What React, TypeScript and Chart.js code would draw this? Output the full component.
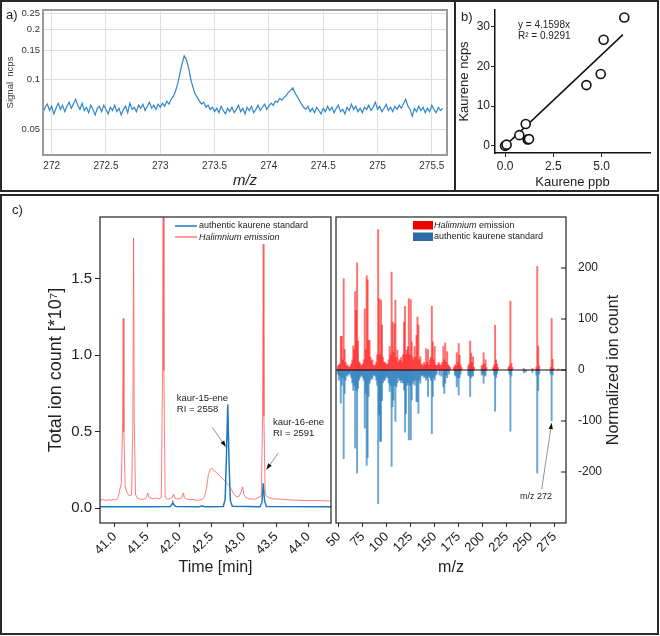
import React, { useEffect, useRef } from "react";
import { Chart, registerables } from "chart.js";

Chart.register(...registerables);

const FONT = "'Liberation Sans', Arial, Helvetica, sans-serif";
Chart.defaults.font.family = FONT;
Chart.defaults.color = "#222";

// ---------- a) high resolution signal ----------
const A_MZ_START = 271.92;
const A_MZ_STEP = 0.02;
const A_SIGNAL = [
  0.063, 0.068, 0.071, 0.065, 0.069, 0.062, 0.067, 0.072, 0.066, 0.070,
  0.064, 0.069, 0.073, 0.067, 0.071, 0.076, 0.070, 0.066, 0.072, 0.065,
  0.068, 0.063, 0.070, 0.066, 0.061, 0.067, 0.069, 0.064, 0.070, 0.066,
  0.062, 0.068, 0.065, 0.070, 0.064, 0.067, 0.061, 0.066, 0.069, 0.063,
  0.072, 0.066, 0.068, 0.064, 0.070, 0.067, 0.071, 0.065, 0.069, 0.073,
  0.067, 0.070, 0.066, 0.071, 0.068, 0.072, 0.069, 0.074, 0.071, 0.076,
  0.079, 0.085, 0.094, 0.108, 0.124, 0.139, 0.132, 0.118, 0.101, 0.090,
  0.082, 0.078, 0.074, 0.071, 0.073, 0.068, 0.070, 0.066, 0.068, 0.064,
  0.067, 0.063, 0.069, 0.065, 0.062, 0.067, 0.064, 0.068, 0.063, 0.066,
  0.070, 0.064, 0.067, 0.062, 0.068, 0.065, 0.069, 0.063, 0.066, 0.070,
  0.065, 0.068, 0.071, 0.066, 0.069, 0.072, 0.070, 0.074, 0.073, 0.077,
  0.075, 0.078, 0.080, 0.084, 0.086, 0.089, 0.083, 0.079, 0.075, 0.071,
  0.068, 0.066, 0.069, 0.064, 0.067, 0.063, 0.068, 0.065, 0.062, 0.067,
  0.064, 0.069, 0.065, 0.068, 0.063, 0.067, 0.070, 0.064, 0.066, 0.062,
  0.068, 0.065, 0.071, 0.066, 0.069, 0.064, 0.067, 0.063, 0.068, 0.066,
  0.070, 0.065, 0.068, 0.073, 0.066, 0.069, 0.064, 0.067, 0.071, 0.065,
  0.068, 0.064, 0.069, 0.066, 0.070, 0.067, 0.072, 0.076, 0.069, 0.066,
  0.060, 0.067, 0.064, 0.069, 0.065, 0.068, 0.063, 0.067, 0.064, 0.070,
  0.066, 0.063, 0.068, 0.065, 0.067,
];
const A_X_TICKS = [272, 272.5, 273, 273.5, 274, 274.5, 275, 275.5];
const A_Y_TICKS = [0.05, 0.1, 0.15, 0.2, 0.25];

// ---------- b) calibration ----------
const B_PPB = [0, 0.08, 0.74, 1.07, 1.17, 1.24, 4.21, 4.95, 5.1, 6.17];
const B_NCPS = [0, 0.3, 2.7, 5.5, 1.6, 1.7, 15.3, 18.1, 26.7, 32.3];
const B_FIT_X = [0, 6.1];
const B_FIT_Y = [0, 28];
const B_X_TICKS = [0, 2.5, 5];
const B_Y_TICKS = [0, 10, 20, 30];

// ---------- c) chromatogram (time [min], TIC *10^7) ----------
const C_STANDARD = [
  [40.77, 0.01], [41.5, 0.01], [41.86, 0.011], [41.89, 0.03], [41.9, 0.037], [41.92, 0.02],
  [41.95, 0.011], [42.3, 0.01], [42.35, 0.015], [42.4, 0.01], [42.68, 0.012], [42.71, 0.06],
  [42.73, 0.35], [42.75, 0.678], [42.77, 0.3], [42.79, 0.05], [42.82, 0.013], [43.25, 0.01],
  [43.28, 0.04], [43.3, 0.163], [43.32, 0.05], [43.35, 0.012], [44.35, 0.01],
];
const C_EMISSION = [
  [40.77, 0.052], [40.82, 0.058], [40.86, 0.05], [40.9, 0.056], [40.94, 0.052], [40.98, 0.058],
  [41.02, 0.054], [41.05, 0.07], [41.08, 0.13], [41.1, 0.16], [41.12, 0.55], [41.13, 1.24],
  [41.14, 0.5], [41.16, 0.14], [41.19, 0.1], [41.23, 0.08], [41.26, 0.09], [41.28, 0.6],
  [41.29, 1.765], [41.3, 0.6], [41.32, 0.09], [41.35, 0.065], [41.39, 0.06], [41.43, 0.058],
  [41.47, 0.062], [41.49, 0.07], [41.51, 0.1], [41.53, 0.07], [41.56, 0.066], [41.6, 0.062],
  [41.64, 0.068], [41.68, 0.06], [41.72, 0.07], [41.74, 0.9], [41.75, 2.6], [41.76, 0.9],
  [41.78, 0.07], [41.82, 0.06], [41.86, 0.064], [41.89, 0.07], [41.91, 0.093], [41.93, 0.066],
  [41.97, 0.06], [42.01, 0.064], [42.04, 0.07], [42.06, 0.1], [42.08, 0.068], [42.12, 0.06],
  [42.17, 0.056], [42.22, 0.058], [42.27, 0.052], [42.32, 0.055], [42.36, 0.06], [42.39, 0.075],
  [42.42, 0.13], [42.45, 0.22], [42.48, 0.255], [42.5, 0.26], [42.53, 0.25], [42.58, 0.23],
  [42.63, 0.21], [42.68, 0.19], [42.73, 0.165], [42.77, 0.15], [42.81, 0.12], [42.85, 0.09],
  [42.89, 0.075], [42.93, 0.08], [42.96, 0.11], [42.98, 0.14], [43.0, 0.09], [43.03, 0.07],
  [43.08, 0.062], [43.13, 0.06], [43.18, 0.06], [43.22, 0.07], [43.27, 0.08], [43.29, 0.6],
  [43.3, 1.724], [43.31, 0.6], [43.33, 0.09], [43.38, 0.07], [43.45, 0.062], [43.55, 0.06],
  [43.7, 0.055], [43.85, 0.052], [44.0, 0.05], [44.15, 0.05], [44.35, 0.048],
];
const C_TIME_TICKS = [41, 41.5, 42, 42.5, 43, 43.5, 44];
const C_TIC_TICKS = [0, 0.5, 1, 1.5];

// ---------- c) mass spectra (m/z, normalized ion count) ----------
const MS_EMISSION = [
  [49, 8], [50, 10], [51, 12], [52, 66], [53, 66], [54, 20], [55, 179], [56, 40], [57, 15], [58, 8],
  [59, 10], [60, 6], [61, 5], [62, 8], [63, 12], [64, 20], [65, 47], [66, 40], [67, 154], [68, 117],
  [69, 210], [70, 57], [71, 16], [72, 13], [73, 8], [74, 10], [75, 12], [76, 20], [77, 120], [78, 40],
  [79, 185], [80, 177], [81, 58], [82, 58], [83, 25], [84, 18], [85, 20], [86, 10], [87, 8], [88, 10],
  [89, 15], [90, 30], [91, 275], [92, 140], [93, 30], [94, 137], [95, 88], [96, 25], [97, 15], [98, 15],
  [99, 12], [100, 10], [101, 12], [102, 20], [103, 46], [104, 30], [105, 192], [106, 94], [107, 35], [108, 91],
  [109, 137], [110, 25], [111, 39], [112, 15], [113, 20], [114, 20], [115, 25], [116, 15], [117, 30], [118, 94],
  [119, 125], [120, 30], [121, 39], [122, 46], [123, 140], [124, 30], [125, 138], [126, 55], [127, 26], [128, 20],
  [129, 46], [130, 25], [131, 68], [132, 104], [133, 88], [134, 20], [135, 26], [136, 10], [137, 12], [138, 8],
  [139, 15], [140, 10], [141, 42], [142, 15], [143, 40], [144, 10], [145, 20], [146, 25], [147, 125], [148, 55],
  [149, 20], [150, 46], [151, 10], [152, 8], [153, 10], [154, 15], [155, 12], [156, 8], [157, 10], [158, 15],
  [159, 46], [160, 20], [161, 53], [162, 15], [163, 36], [164, 10], [165, 8], [166, 5], [170, 5], [171, 10],
  [172, 8], [173, 34], [174, 15], [175, 52], [176, 29], [177, 10], [178, 5], [185, 8], [186, 12], [187, 57],
  [188, 33], [189, 15], [190, 26], [191, 5], [199, 8], [200, 10], [201, 34], [202, 12], [203, 20], [204, 5],
  [211, 5], [212, 10], [213, 88], [214, 20], [215, 12], [216, 5], [227, 5], [228, 8], [229, 135], [230, 13],
  [231, 5], [243, 3], [252, 3], [256, 5], [257, 203], [258, 46], [259, 8], [271, 5], [272, 101], [273, 21],
  [274, 3], [279, 2],
];
const MS_STANDARD = [
  [49, -8], [50, -20], [51, -12], [52, -65], [53, -30], [54, -15], [55, -174], [56, -46], [57, -20], [58, -10],
  [59, -12], [60, -8], [61, -6], [62, -10], [63, -15], [64, -25], [65, -40], [66, -30], [67, -153], [68, -40],
  [69, -202], [70, -36], [71, -20], [72, -15], [73, -10], [74, -12], [75, -15], [76, -20], [77, -114], [78, -45],
  [79, -187], [80, -172], [81, -52], [82, -26], [83, -20], [84, -15], [85, -18], [86, -10], [87, -10], [88, -12],
  [89, -20], [90, -30], [91, -262], [92, -88], [93, -140], [94, -140], [95, -60], [96, -25], [97, -20], [98, -20],
  [99, -15], [100, -12], [101, -15], [102, -25], [103, -42], [104, -30], [105, -189], [106, -72], [107, -59], [108, -30],
  [109, -101], [110, -33], [111, -25], [112, -15], [113, -20], [114, -20], [115, -25], [116, -20], [117, -25], [118, -39],
  [119, -122], [120, -85], [121, -30], [122, -25], [123, -137], [124, -30], [125, -137], [126, -59], [127, -26], [128, -20],
  [129, -30], [130, -20], [131, -62], [132, -62], [133, -85], [134, -20], [135, -26], [136, -10], [137, -12], [138, -10],
  [139, -15], [140, -12], [141, -20], [142, -15], [143, -52], [144, -10], [145, -15], [146, -20], [147, -125], [148, -52],
  [149, -15], [150, -20], [151, -10], [152, -8], [155, -10], [157, -12], [159, -33], [160, -46], [161, -26], [162, -10],
  [163, -15], [165, -8], [171, -10], [172, -12], [173, -33], [174, -15], [175, -49], [176, -15], [177, -8], [185, -10],
  [186, -12], [187, -52], [188, -15], [189, -10], [190, -12], [199, -10], [200, -8], [201, -26], [202, -10], [203, -12],
  [212, -10], [213, -81], [214, -15], [215, -8], [228, -8], [229, -120], [230, -12], [243, -5], [245, -4], [252, -5],
  [256, -10], [257, -202], [258, -40], [259, -8], [271, -8], [272, -100], [273, -10],
];
const MS_X_TICKS = [50, 75, 100, 125, 150, 175, 200, 225, 250, 275];
const MS_Y_TICKS = [-200, -100, 0, 100, 200];

const BLUE = "#1f78c1";
const RED_LINE = "rgba(255,80,80,0.75)";

// ---------- helpers ----------
const setTicks = (vals: number[]) => (s: any) => {
  s.ticks = vals.map((value) => ({ value }));
};

const fixHeight = (h: number) => (s: any) => {
  s.height = h;
  s.paddingLeft = 0;
  s.paddingRight = 0;
};
const fixWidth = (w: number) => (s: any) => {
  s.width = w;
  s.paddingTop = 0;
  s.paddingBottom = 0;
};

const framePlugin = (color: string, width: number) => ({
  id: "frame",
  afterDraw(chart: any) {
    const { ctx, chartArea: a } = chart;
    ctx.save();
    ctx.strokeStyle = color;
    ctx.lineWidth = width;
    ctx.strokeRect(a.left, a.top, a.right - a.left, a.bottom - a.top);
    ctx.restore();
  },
});

function drawArrow(ctx: CanvasRenderingContext2D, x1: number, y1: number, x2: number, y2: number) {
  ctx.save();
  ctx.strokeStyle = "#777";
  ctx.lineWidth = 0.8;
  ctx.beginPath();
  ctx.moveTo(x1, y1);
  ctx.lineTo(x2, y2);
  ctx.stroke();
  const ang = Math.atan2(y2 - y1, x2 - x1);
  const L = 6;
  const W = 2.2;
  ctx.fillStyle = "#111";
  ctx.beginPath();
  ctx.moveTo(x2, y2);
  ctx.lineTo(x2 - L * Math.cos(ang) + W * Math.sin(ang), y2 - L * Math.sin(ang) - W * Math.cos(ang));
  ctx.lineTo(x2 - L * Math.cos(ang) - W * Math.sin(ang), y2 - L * Math.sin(ang) + W * Math.cos(ang));
  ctx.closePath();
  ctx.fill();
  ctx.restore();
}

const baseOpts = {
  responsive: false,
  animation: false as const,
  events: [] as any[],
};

// ---------- chart builders ----------
function makeA(el: HTMLCanvasElement) {
  return new Chart(el, {
    type: "line",
    data: {
      datasets: [
        {
          data: A_SIGNAL.map((y, i) => ({ x: A_MZ_START + i * A_MZ_STEP, y })),
          borderColor: "#2f86c8",
          borderWidth: 1.2,
          pointRadius: 0,
          tension: 0,
        },
      ],
    },
    options: {
      ...baseOpts,
      layout: { padding: { left: 0, right: 8, top: 10, bottom: 0 } },
      plugins: { legend: { display: false }, tooltip: { enabled: false } },
      scales: {
        x: {
          type: "linear",
          bounds: "data",
          min: 271.92,
          max: 275.64,
          afterBuildTicks: setTicks(A_X_TICKS),
          afterFit: fixHeight(38),
          grid: { color: "#dedede", drawTicks: false },
          border: { display: false },
          ticks: { font: { size: 10 }, color: "#333", padding: 5, maxRotation: 0, autoSkip: false, callback: (v: any) => String(v) },
          title: { display: true, text: "m/z", font: { size: 15, style: "italic" }, color: "#222", padding: { top: 0, bottom: 3 } },
        },
        y: {
          type: "logarithmic",
          bounds: "data",
          min: 0.035,
          max: 0.263,
          afterBuildTicks: setTicks(A_Y_TICKS),
          afterFit: fixWidth(43),
          grid: { color: "#dedede", drawTicks: false },
          border: { display: false },
          ticks: { font: { size: 9.5 }, color: "#333", padding: 3, autoSkip: false, callback: (v: any) => String(v) },
          title: { display: true, text: "Signal  ncps", font: { size: 9.5 }, color: "#333", padding: { top: 5, bottom: 0 } },
        },
      },
    } as any,
    plugins: [framePlugin("#9a9a9a", 2)],
  });
}

function makeB(el: HTMLCanvasElement) {
  const eqPlugin = {
    id: "eq",
    afterDraw(chart: any) {
      const { ctx, scales } = chart;
      ctx.save();
      ctx.font = `10px ${FONT}`;
      ctx.fillStyle = "#222";
      ctx.textBaseline = "middle";
      ctx.fillText("y = 4.1598x", scales.x.getPixelForValue(0.67), scales.y.getPixelForValue(30.4));
      ctx.fillText("R² = 0.9291", scales.x.getPixelForValue(0.67), scales.y.getPixelForValue(27.5));
      ctx.restore();
    },
  };
  return new Chart(el, {
    type: "scatter",
    data: {
      datasets: [
        {
          data: B_PPB.map((x, i) => ({ x, y: B_NCPS[i] })),
          pointRadius: 4.5,
          pointBorderWidth: 1.6,
          borderColor: "#111",
          backgroundColor: "#fff",
          pointBackgroundColor: "#fff",
          pointBorderColor: "#111",
        },
        {
          type: "line",
          data: B_FIT_X.map((x, i) => ({ x, y: B_FIT_Y[i] })),
          borderColor: "#111",
          borderWidth: 1.5,
          pointRadius: 0,
          tension: 0,
        },
      ],
    } as any,
    options: {
      ...baseOpts,
      layout: { padding: { left: 0, right: 10, top: 10, bottom: 0 } },
      plugins: { legend: { display: false }, tooltip: { enabled: false } },
      scales: {
        x: {
          type: "linear",
          bounds: "data",
          min: -0.52,
          max: 7.5,
          afterBuildTicks: setTicks(B_X_TICKS),
          afterFit: fixHeight(40),
          grid: { drawOnChartArea: false, tickLength: 4, color: "#222" },
          border: { display: true, color: "#111", width: 1.5 },
          ticks: { font: { size: 12 }, color: "#222", padding: 2, maxRotation: 0, autoSkip: false, callback: (v: any) => Number(v).toFixed(1) },
          title: { display: true, text: "Kaurene ppb", font: { size: 13 }, color: "#222", padding: { top: 0, bottom: 3 } },
        },
        y: {
          type: "linear",
          bounds: "data",
          min: -1.8,
          max: 34.2,
          afterBuildTicks: setTicks(B_Y_TICKS),
          afterFit: fixWidth(40),
          grid: { drawOnChartArea: false, tickLength: 4, color: "#222" },
          border: { display: true, color: "#111", width: 1.5 },
          ticks: { font: { size: 12 }, color: "#222", padding: 1, autoSkip: false, callback: (v: any) => String(v) },
          title: { display: true, text: "Kaurene ncps", font: { size: 13 }, color: "#222", padding: { top: 2, bottom: 0 } },
        },
      },
    } as any,
    plugins: [eqPlugin],
  });
}

function makeCL(el: HTMLCanvasElement) {
  const annot = {
    id: "annotCL",
    afterDraw(chart: any) {
      const { ctx, chartArea: a, scales } = chart;
      const X = (v: number) => scales.x.getPixelForValue(v);
      const Y = (v: number) => scales.y.getPixelForValue(v);
      ctx.save();
      // legend
      ctx.lineWidth = 1.5;
      ctx.strokeStyle = BLUE;
      ctx.beginPath(); ctx.moveTo(a.left + 75, a.top + 9); ctx.lineTo(a.left + 97, a.top + 9); ctx.stroke();
      ctx.strokeStyle = RED_LINE;
      ctx.beginPath(); ctx.moveTo(a.left + 75, a.top + 20); ctx.lineTo(a.left + 97, a.top + 20); ctx.stroke();
      ctx.fillStyle = "#222";
      ctx.textBaseline = "middle";
      ctx.font = `9px ${FONT}`;
      ctx.fillText("authentic kaurene standard", a.left + 99, a.top + 9);
      ctx.font = `italic 9px ${FONT}`;
      ctx.fillText("Halimnium emission", a.left + 99, a.top + 20);
      // peak labels
      ctx.font = `9.5px ${FONT}`;
      ctx.fillText("kaur-15-ene", X(41.96), Y(0.72));
      ctx.fillText("RI = 2558", X(41.96), Y(0.646));
      ctx.fillText("kaur-16-ene", X(43.45), Y(0.558));
      ctx.fillText("RI = 2591", X(43.45), Y(0.489));
      ctx.restore();
      drawArrow(ctx, X(42.51), Y(0.528), X(42.72), Y(0.402));
      drawArrow(ctx, X(43.53), Y(0.359), X(43.35), Y(0.254));
    },
  };
  return new Chart(el, {
    type: "line",
    data: {
      datasets: [
        { data: C_STANDARD.map(([x, y]) => ({ x, y })), borderColor: BLUE, borderWidth: 1.5, pointRadius: 0, tension: 0 },
        { data: C_EMISSION.map(([x, y]) => ({ x, y })), borderColor: RED_LINE, borderWidth: 1, pointRadius: 0, tension: 0 },
      ],
    },
    options: {
      ...baseOpts,
      layout: { padding: { left: 0, right: 2, top: 24, bottom: 59 } },
      plugins: { legend: { display: false }, tooltip: { enabled: false } },
      scales: {
        x: {
          type: "linear",
          bounds: "data",
          min: 40.77,
          max: 44.35,
          afterBuildTicks: setTicks(C_TIME_TICKS),
          afterFit: fixHeight(54),
          grid: { drawOnChartArea: false, tickLength: 4, color: "#222" },
          border: { display: false },
          ticks: { font: { size: 13 }, color: "#222", padding: 2, minRotation: 45, maxRotation: 45, autoSkip: false, callback: (v: any) => Number(v).toFixed(1) },
          title: { display: true, text: "Time [min]", font: { size: 16 }, color: "#222", padding: { top: 0, bottom: 0 } },
        },
        y: {
          type: "linear",
          bounds: "data",
          min: -0.096,
          max: 1.902,
          afterBuildTicks: setTicks(C_TIC_TICKS),
          afterFit: fixWidth(100),
          grid: { drawOnChartArea: false, tickLength: 5, color: "#222" },
          border: { display: false },
          ticks: { font: { size: 15 }, color: "#222", padding: 3, autoSkip: false, callback: (v: any) => Number(v).toFixed(1) },
          title: { display: true, text: "Total ion count [*10⁷]", font: { size: 18 }, color: "#222", padding: { top: 45, bottom: 0 } },
        },
      },
    } as any,
    plugins: [framePlugin("#222", 1.2), annot],
  });
}

function makeCR(el: HTMLCanvasElement) {
  const annot = {
    id: "annotCR",
    afterDraw(chart: any) {
      const { ctx, chartArea: a, scales } = chart;
      const X = (v: number) => scales.x.getPixelForValue(v);
      const Y = (v: number) => scales.y.getPixelForValue(v);
      ctx.save();
      // zero line
      ctx.strokeStyle = "#111";
      ctx.lineWidth = 1.2;
      ctx.beginPath(); ctx.moveTo(a.left, Y(0)); ctx.lineTo(a.right, Y(0)); ctx.stroke();
      // inward ticks on right axis
      ctx.lineWidth = 1;
      for (const v of MS_Y_TICKS) {
        ctx.beginPath(); ctx.moveTo(a.right - 5, Y(v)); ctx.lineTo(a.right, Y(v)); ctx.stroke();
      }
      // legend
      ctx.fillStyle = "#ee0000";
      ctx.fillRect(a.left + 77, a.top + 4, 20, 8.5);
      ctx.fillStyle = "#2d6aa6";
      ctx.fillRect(a.left + 77, a.top + 15.5, 20, 8.5);
      ctx.fillStyle = "#222";
      ctx.textBaseline = "middle";
      ctx.font = `italic 9px ${FONT}`;
      ctx.fillText("Halimnium", a.left + 98, a.top + 8.5);
      const w = ctx.measureText("Halimnium").width;
      ctx.font = `9px ${FONT}`;
      ctx.fillText(" emission", a.left + 98 + w, a.top + 8.5);
      ctx.fillText("authentic kaurene standard", a.left + 98, a.top + 20);
      // annotation
      ctx.fillText("m/z 272", X(239), Y(-249));
      // right title, reading bottom-to-top
      ctx.translate(a.right + 48, (a.top + a.bottom) / 2);
      ctx.rotate(-Math.PI / 2);
      ctx.textAlign = "center";
      ctx.font = `16px ${FONT}`;
      ctx.fillText("Normalized ion count", 0, 0);
      ctx.restore();
      drawArrow(ctx, X(261.6), Y(-234), X(272), Y(-104));
    },
  };
  return new Chart(el, {
    type: "bar",
    data: {
      datasets: [
        { data: MS_EMISSION.map(([x, y]) => ({ x, y })), backgroundColor: "rgba(255,20,20,0.6)", barThickness: 1.3, grouped: false },
        { data: MS_STANDARD.map(([x, y]) => ({ x, y })), backgroundColor: "rgba(30,120,185,0.65)", barThickness: 1.3, grouped: false },
      ],
    } as any,
    options: {
      ...baseOpts,
      layout: { padding: { left: 23, right: 0, top: 24, bottom: 59 } },
      plugins: { legend: { display: false }, tooltip: { enabled: false } },
      scales: {
        x: {
          type: "linear",
          bounds: "data",
          offset: false,
          min: 47,
          max: 287,
          afterBuildTicks: setTicks(MS_X_TICKS),
          afterFit: fixHeight(54),
          grid: { drawOnChartArea: false, tickLength: 4, color: "#222", offset: false },
          border: { display: false },
          ticks: { font: { size: 13 }, color: "#222", padding: 2, minRotation: 45, maxRotation: 45, autoSkip: false, callback: (v: any) => String(v) },
          title: { display: true, text: "m/z", font: { size: 16 }, color: "#222", padding: { top: 0, bottom: 0 } },
        },
        y: {
          type: "linear",
          position: "right",
          bounds: "data",
          min: -300,
          max: 300,
          afterBuildTicks: setTicks(MS_Y_TICKS),
          afterFit: fixWidth(94),
          grid: { display: false },
          border: { display: false },
          ticks: { font: { size: 12 }, color: "#222", padding: 4, autoSkip: false, callback: (v: any) => String(v) },
        },
      },
    } as any,
    plugins: [framePlugin("#222", 1.2), annot],
  });
}

function ChartCanvas(props: { left: number; top: number; width: number; height: number; make: (el: HTMLCanvasElement) => Chart }) {
  const ref = useRef<HTMLCanvasElement | null>(null);
  useEffect(() => {
    const chart = props.make(ref.current as HTMLCanvasElement);
    return () => chart.destroy();
  }, []);
  return (
    <canvas
      ref={ref}
      width={props.width}
      height={props.height}
      style={{ position: "absolute", left: props.left, top: props.top, width: props.width, height: props.height }}
    />
  );
}

const labelStyle = (left: number, top: number): React.CSSProperties => ({
  position: "absolute",
  left,
  top,
  fontSize: 13,
  lineHeight: "13px",
  color: "#222",
  fontFamily: FONT,
});

export default function App() {
  return (
    <div style={{ position: "absolute", left: 0, top: 0, width: 660, height: 636, background: "#fff", overflow: "hidden", fontFamily: FONT }}>
      <ChartCanvas left={0} top={0} width={455} height={193} make={makeA} />
      <ChartCanvas left={455} top={0} width={205} height={193} make={makeB} />
      <ChartCanvas left={0} top={193} width={333} height={443} make={makeCL} />
      <ChartCanvas left={313} top={193} width={347} height={443} make={makeCR} />
      <div style={{ position: "absolute", left: 0, top: 0, width: 659, height: 192, border: "2px solid #2a2a2a", boxSizing: "border-box" }} />
      <div style={{ position: "absolute", left: 454, top: 0, width: 2, height: 192, background: "#2a2a2a" }} />
      <div style={{ position: "absolute", left: 0, top: 194, width: 659, height: 441, border: "2px solid #2a2a2a", boxSizing: "border-box" }} />
      <span style={labelStyle(6, 8)}>a)</span>
      <span style={labelStyle(461, 10)}>b)</span>
      <span style={labelStyle(12, 203)}>c)</span>
    </div>
  );
}
